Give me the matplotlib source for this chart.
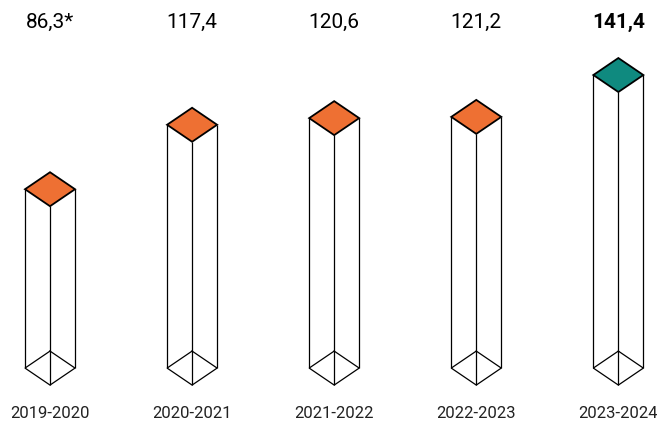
import matplotlib
matplotlib.use("Agg")
import matplotlib.pyplot as plt
from matplotlib.patches import Polygon
from matplotlib.transforms import blended_transform_factory

categories = ["2019-2020", "2020-2021", "2021-2022", "2022-2023", "2023-2024"]
values = [86.3, 117.4, 120.6, 121.2, 141.4]
value_labels = ["86,3*", "117,4", "120,6", "121,2", "141,4"]
highlight = [False, False, False, False, True]

ORANGE = "#EE7033"
TEAL = "#0F8A7F"
plt.rcParams['font.family'] = ['Roboto', 'DejaVu Sans']

fig = plt.figure(figsize=(6.57, 4.23), dpi=100)
ax = fig.add_axes([0, 0, 1, 1])
ax.set_xlim(-0.352, 4.272)
ax.set_ylim(-26.5, 177.6)
ax.axis("off")

w = 0.176   # half width in category units
d = 8.2     # half height of diamond in value units
lw = 0.9

for i, (v, hl) in enumerate(zip(values, highlight)):
    # vertical edges
    ax.plot([i - w, i - w], [0, v], color="black", lw=lw, solid_capstyle="butt")
    ax.plot([i + w, i + w], [0, v], color="black", lw=lw, solid_capstyle="butt")
    ax.plot([i, i], [-d, v - d], color="black", lw=lw, solid_capstyle="butt")
    # bottom diamond outline
    bx = [i, i + w, i, i - w, i]
    by = [d, 0, -d, 0, d]
    ax.plot(bx, by, color="black", lw=lw, solid_joinstyle="miter")
    # top diamond filled
    top = Polygon([[i, v + d], [i + w, v], [i, v - d], [i - w, v]], closed=True,
                  facecolor=TEAL if hl else ORANGE, edgecolor="black", lw=1.3,
                  joinstyle="miter", zorder=3)
    ax.add_patch(top)

trans = blended_transform_factory(ax.transData, ax.transAxes)
for i, (lab, hl) in enumerate(zip(value_labels, highlight)):
    ax.text(i, 1 - 22 / 423, lab, transform=trans, ha="center", va="center",
            fontsize=15, fontweight="bold" if hl else "normal", color="black")
for i, cat in enumerate(categories):
    ax.text(i, 1 - 413 / 423, cat, transform=trans, ha="center", va="center",
            fontsize=12, color="#222222")

fig.savefig("out.png", dpi=100)
